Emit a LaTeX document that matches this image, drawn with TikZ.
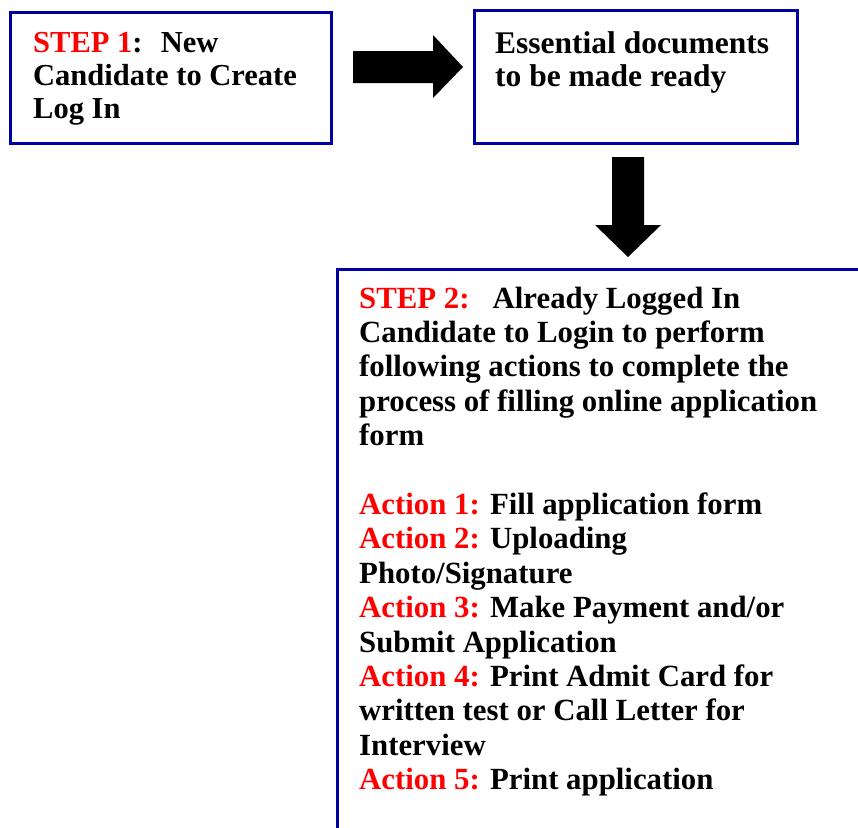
\documentclass[tikz,border=0pt]{standalone}
\usepackage{fontspec}
\setmainfont{Liberation Serif}
\definecolor{boxblue}{RGB}{0,0,160}
\definecolor{stepred}{RGB}{255,0,0}
\newcommand{\rd}[1]{\textcolor{stepred}{#1}}
\begin{document}
\begin{tikzpicture}[x=1pt,y=-1pt,
  frame/.style={draw=boxblue,line width=3pt,inner sep=0pt,rectangle},
  txt/.style={anchor=base west,inner sep=0pt,font=\bfseries\fontsize{30.5}{33}\selectfont},
  txtb/.style={anchor=base west,inner sep=0pt,font=\bfseries\fontsize{30.8}{34.4}\selectfont},
  blockarrow/.style={fill=black}]
\useasboundingbox (0,0) rectangle (858,827);
\clip (0,0) rectangle (858,827);
% boxes
\node[frame,minimum width=321pt,minimum height=131pt] (box1) at (171,78) {};
\node[frame,minimum width=323pt,minimum height=133pt] (box2) at (636,77) {};
\node[frame,minimum width=612.5pt,minimum height=680.5pt] (box3) at (643.75,609.75) {};
% texts
\node[txt] (t1) at (33,52) {\parbox[t]{400pt}{\raggedright
  \rd{STEP 1}:\hspace{0.6em}New\\
  Candidate to Create\\
  Log In}};
\node[txt,font=\bfseries\fontsize{31.5}{33}\selectfont] (t2) at (495,53) {\parbox[t]{400pt}{\raggedright
  Essential documents\\
  to be made ready}};
\node[txtb] (t3) at (359,308) {\parbox[t]{560pt}{\raggedright
  \rd{STEP 2:}\hspace{0.75em}Already Logged In\\
  Candidate to Login to perform\\
  following actions to complete the\\
  process of filling online application\\
  form\\[34.4pt]
  \rd{Action 1:} Fill application form\\
  \rd{Action 2:} Uploading\\
  Photo/Signature\\
  \rd{Action 3:} Make Payment and/or\\
  Submit Application\\
  \rd{Action 4:} Print Admit Card for\\
  written test or Call Letter for\\
  Interview\\
  \rd{Action 5:} Print application}};
% block arrows
\fill[blockarrow] (353,51) -- (433,51) -- (433,35) -- (463,67) -- (433,98) -- (433,83) -- (353,83) -- cycle;
\fill[blockarrow] (612,157) -- (644,157) -- (644,225) -- (661,225) -- (628,257) -- (595,225) -- (612,225) -- cycle;
\end{tikzpicture}
\end{document}
